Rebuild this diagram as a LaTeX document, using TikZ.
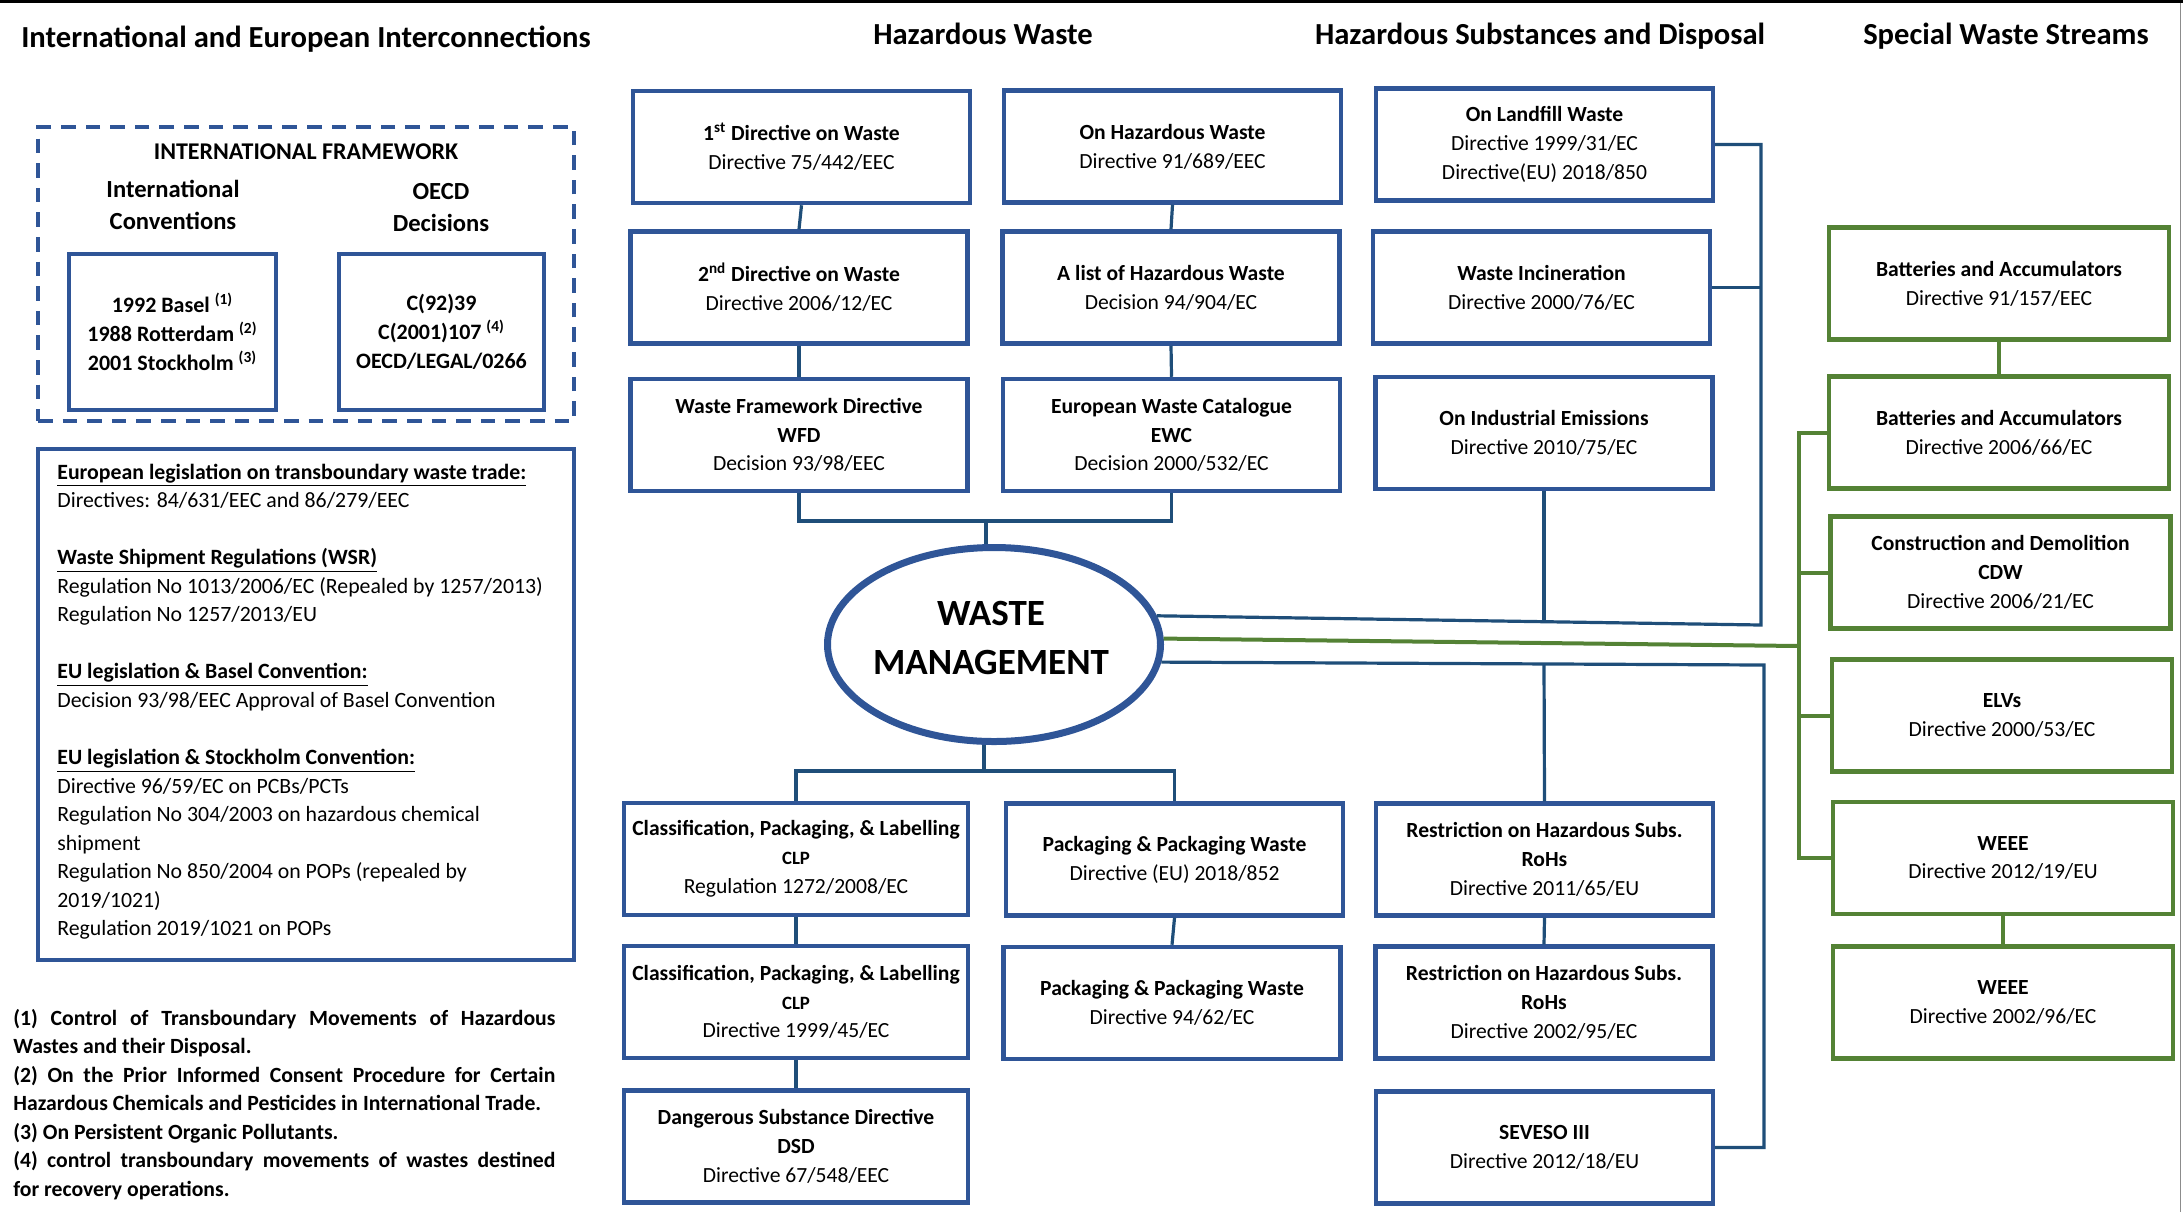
\documentclass[tikz,border=0pt]{standalone}
\usepackage{fontspec}
\setmainfont{Carlito}
\usetikzlibrary{shapes.geometric}
\definecolor{boxblue}{HTML}{2F5597}
\definecolor{lineblue}{HTML}{1F4E79}
\definecolor{boxgreen}{HTML}{548235}
\newcommand\bxfont{\fontsize{10.8pt}{14.4pt}\selectfont}
\newcommand\ttlfont{\fontsize{15.3pt}{18pt}\selectfont\bfseries}
\newcommand\clpfont{\fontsize{9.4pt}{14.4pt}\selectfont\bfseries}
\begin{document}
\begin{tikzpicture}[x=0.5pt,y=-0.5pt,
  bbox/.style={draw=boxblue, line width=2.25pt, minimum width=168.3pt, minimum height=56pt, inner sep=0pt, align=center, font=\bxfont},
  cbox/.style={bbox, minimum width=171.8pt},
  gbox/.style={bbox, draw=boxgreen, line width=2.4pt, minimum width=170pt},
  conn/.style={draw=lineblue, line width=1.6pt},
  gconn/.style={draw=boxgreen, line width=2pt},
  ttl/.style={font=\ttlfont, anchor=base, inner sep=0pt}]
\useasboundingbox (0,0) rectangle (2183,1212);
\fill[black] (0,0) rectangle (2183,3);
\draw[black!45, line width=0.6pt] (2180.5,3) -- (2180.5,1212);

% titles
\node[ttl] (t1) at (306,47) {International and European Interconnections};
\node[ttl] (t2) at (983,44) {Hazardous Waste};
\node[ttl] (t3) at (1540,44) {Hazardous Substances and Disposal};
\node[ttl] (t4) at (2006,44) {Special Waste Streams};

% international framework
\node[draw=boxblue, line width=2pt, dash pattern=on 7.3pt off 5pt, minimum width=268pt, minimum height=147pt, inner sep=0pt] (frame) at (306,274) {};
\node[font=\fontsize{12pt}{14pt}\selectfont\bfseries, inner sep=0pt] (fwt) at (306,152) {INTERNATIONAL FRAMEWORK};
\node[font=\fontsize{12.3pt}{16.4pt}\selectfont\bfseries, align=center, inner sep=0pt] (convt) at (173,205) {International\\Conventions};
\node[font=\fontsize{12.3pt}{16pt}\selectfont\bfseries, align=center, inner sep=0pt] (oecdt) at (441,208) {OECD\\Decisions};
\node[draw=boxblue, line width=2pt, minimum width=103.5pt, minimum height=78pt, inner sep=0pt, align=center, font=\fontsize{11pt}{14.5pt}\selectfont\bfseries] (conv) at (172.5,332)
  {1992 Basel \textsuperscript{(1)}\\1988 Rotterdam \textsuperscript{(2)}\\2001 Stockholm \textsuperscript{(3)}};
\node[draw=boxblue, line width=2pt, minimum width=102.5pt, minimum height=78pt, inner sep=0pt, align=center, font=\fontsize{11pt}{14.5pt}\selectfont\bfseries] (oecd) at (441.5,332)
  {C(92)39\\C(2001)107 \textsuperscript{(4)}\\OECD/LEGAL/0266};

% EU legislation box
\node[draw=boxblue, line width=2pt, minimum width=268pt, minimum height=255.5pt, inner sep=0pt] (eubox) at (306,704.5) {};
\node[anchor=base west, inner sep=0pt] (eutext) at (57,479) {\parbox[t]{262pt}{\fontsize{10.9pt}{14.28pt}\selectfont
\underline{\textbf{European legislation on transboundary waste trade:}}\\
Directives: 84/631/EEC and 86/279/EEC\\[14.28pt]
\underline{\textbf{Waste Shipment Regulations (WSR)}}\\
Regulation No 1013/2006/EC (Repealed by 1257/2013)\\
Regulation No 1257/2013/EU\\[14.28pt]
\underline{\textbf{EU legislation \& Basel Convention:}}\\
Decision 93/98/EEC Approval of Basel Convention\\[14.28pt]
\underline{\textbf{EU legislation \& Stockholm Convention:}}\\
Directive 96/59/EC on PCBs/PCTs\\
Regulation No 304/2003 on hazardous chemical\\
shipment\\
Regulation No 850/2004 on POPs (repealed by\\
2019/1021)\\
Regulation 2019/1021 on POPs}};

% footnotes
\node[anchor=base west, inner sep=0pt] (notes) at (13,1025) {\parbox[t]{271pt}{\fontsize{10.85pt}{14.25pt}\selectfont\bfseries
(1) Control of Transboundary Movements of Hazardous\linebreak Wastes and their Disposal.\par
(2) On the Prior Informed Consent Procedure for Certain\linebreak Hazardous Chemicals and Pesticides in International Trade.\par
(3) On Persistent Organic Pollutants.\par
(4) control transboundary movements of wastes destined\linebreak for recovery operations.}};

% hazardous waste column
\node[bbox] (hw1) at (801.5,147) {\textbf{1\textsuperscript{st} Directive on Waste}\\Directive 75/442/EEC};
\node[bbox] (hw2) at (799,287.5) {\textbf{2\textsuperscript{nd} Directive on Waste}\\Directive 2006/12/EC};
\node[bbox] (hw3) at (799,435) {\textbf{Waste Framework Directive}\\\textbf{WFD}\\Decision 93/98/EEC};
\node[bbox] (hz1) at (1172.5,146.5) {\textbf{On Hazardous Waste}\\Directive 91/689/EEC};
\node[bbox] (hz2) at (1171,287.5) {\textbf{A list of Hazardous Waste}\\Decision 94/904/EC};
\node[bbox] (hz3) at (1171.5,435) {\textbf{European Waste Catalogue}\\\textbf{EWC}\\Decision 2000/532/EC};

% hazardous substances column
\node[bbox] (ls) at (1544.5,144.5) {\textbf{On Landfill Waste}\\Directive 1999/31/EC\\Directive(EU) 2018/850};
\node[bbox] (inc) at (1541.5,287.5) {\textbf{Waste Incineration}\\Directive 2000/76/EC};
\node[bbox] (ie) at (1544,433) {\textbf{On Industrial Emissions}\\Directive 2010/75/EC};
\node[bbox] (r1) at (1544.5,859.5) {\textbf{Restriction on Hazardous Subs.}\\\textbf{RoHs}\\Directive 2011/65/EU};
\node[bbox] (r2) at (1544,1002.5) {\textbf{Restriction on Hazardous Subs.}\\\textbf{RoHs}\\Directive 2002/95/EC};
\node[bbox] (sev) at (1544.5,1147.5) {\textbf{SEVESO III}\\Directive 2012/18/EU};

% bottom left
\node[cbox] (c1) at (796,859) {\textbf{Classification, Packaging, \& Labelling}\\{\clpfont CLP}\\Regulation 1272/2008/EC};
\node[cbox] (c2) at (796,1002) {\textbf{Classification, Packaging, \& Labelling}\\{\clpfont CLP}\\Directive 1999/45/EC};
\node[cbox] (dsd) at (796,1146.5) {\textbf{Dangerous Substance Directive}\\\textbf{DSD}\\Directive 67/548/EEC};
\node[bbox] (p1) at (1174.5,859.5) {\textbf{Packaging \& Packaging Waste}\\Directive (EU) 2018/852};
\node[bbox] (p2) at (1172,1003) {\textbf{Packaging \& Packaging Waste}\\Directive 94/62/EC};

% special waste streams
\node[gbox] (g1) at (1999,283.5) {\textbf{Batteries and Accumulators}\\Directive 91/157/EEC};
\node[gbox] (g2) at (1999,432.5) {\textbf{Batteries and Accumulators}\\Directive 2006/66/EC};
\node[gbox] (g3) at (2000.5,572.5) {\textbf{Construction and Demolition}\\\textbf{CDW}\\Directive 2006/21/EC};
\node[gbox] (g4) at (2002,715.5) {\textbf{ELVs}\\Directive 2000/53/EC};
\node[gbox] (g5) at (2003,858) {\textbf{WEEE}\\Directive 2012/19/EU};
\node[gbox] (g6) at (2003,1002.5) {\textbf{WEEE}\\Directive 2002/96/EC};

% central ellipse
\node[ellipse, draw=boxblue, line width=3.5pt, minimum width=166.5pt, minimum height=97pt, inner sep=0pt] (wm) at (994,644.5) {};
\node[align=center, inner sep=0pt, font=\fontsize{18.5pt}{24.5pt}\selectfont\bfseries] (wmtext) at (991,638) {WASTE\\MANAGEMENT};

% connectors: hazardous waste
\coordinate (topbar) at (986,521);
\draw[conn] (hw1.south) -- (hw2.north);
\draw[conn] (hw2.south) -- (hw3.north);
\draw[conn] (hz1.south) -- (hz2.north);
\draw[conn] (hz2.south) -- (hz3.north);
\draw[conn] (hw3.south) |- (topbar) -| (hz3.south);
\draw[conn] (topbar) -- (topbar |- wm.north);

% connectors: bottom left
\coordinate (botbar) at (984,771);
\draw[conn] (botbar |- wm.south) -- (botbar);
\draw[conn] (c1.north) |- (botbar) -| (p1.north);
\draw[conn] (c1.south) -- (c2.north);
\draw[conn] (c2.south) -- (dsd.north);
\draw[conn] (p1.south) -- (p2.north);

% connectors: hazardous substances
\coordinate (busU) at (1761,625);
\coordinate (ieJ) at (1544,622);
\coordinate (busL) at (1764,665);
\coordinate (rJ) at (1544,664);
\draw[conn] (wm.10) -- (busU) |- (ls.east);
\draw[conn] (inc.east) -- (inc.east -| busU);
\draw[conn] (ie.south) -- (ieJ);
\draw[conn] (wm.-6) -- (busL) |- (sev.east);
\draw[conn] (rJ) -- (r1.north);
\draw[conn] (r1.south) -- (r2.north);

% connectors: special waste streams
\coordinate (gJ) at (1799,646);
\draw[gconn] (wm.2) -- (gJ);
\draw[gconn] (g2.west) -- (g2.west -| gJ) -- (g5.west -| gJ) -- (g5.west);
\draw[gconn] (g3.west) -- (g3.west -| gJ);
\draw[gconn] (g4.west) -- (g4.west -| gJ);
\draw[gconn] (g1.south) -- (g2.north);
\draw[gconn] (g5.south) -- (g6.north);
\end{tikzpicture}
\end{document}
